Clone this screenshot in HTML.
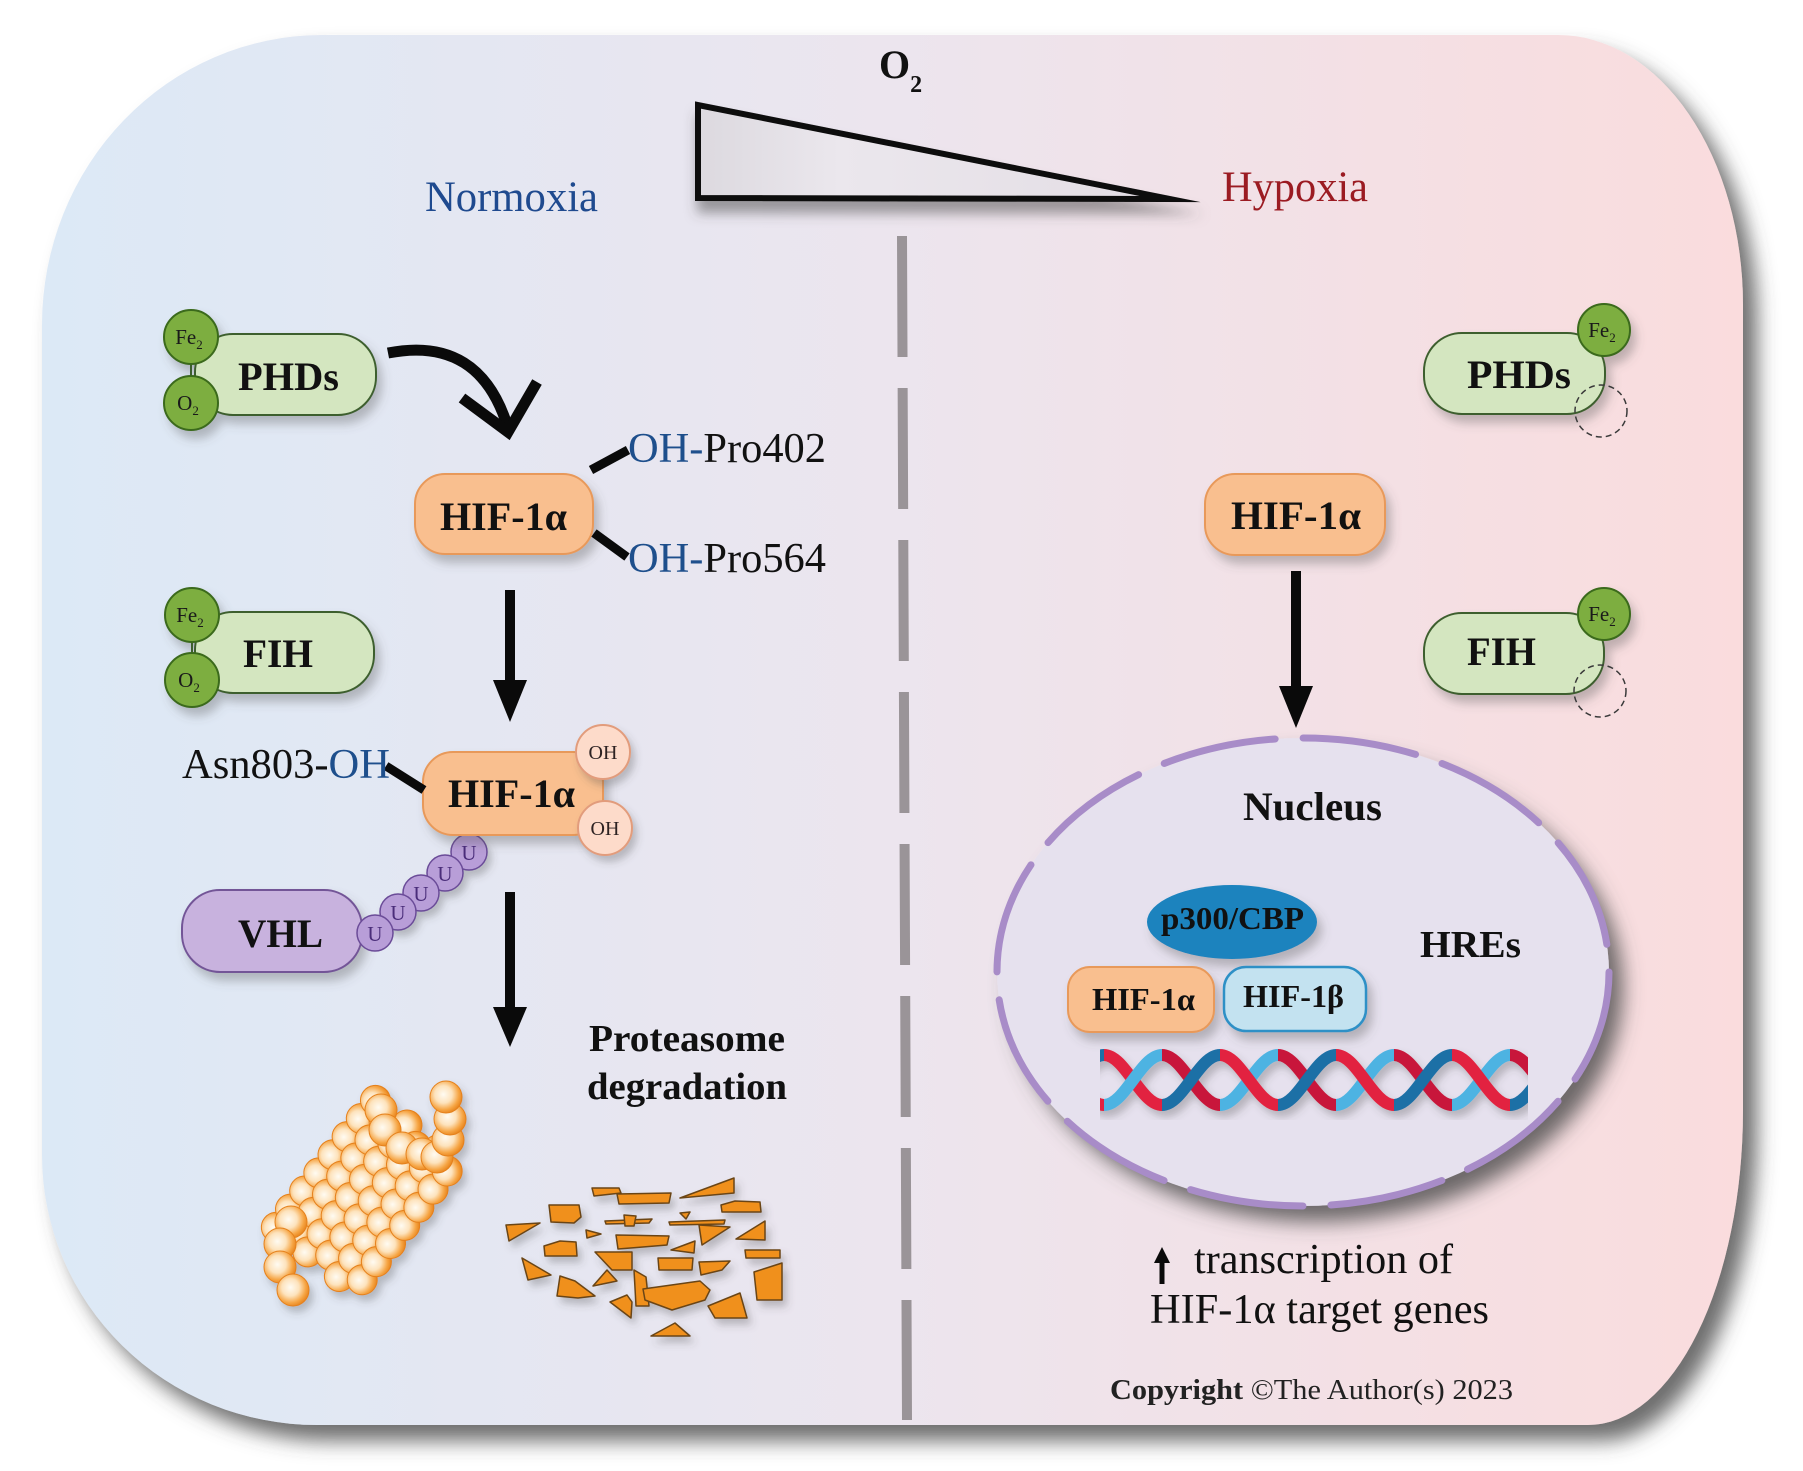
<!DOCTYPE html>
<html>
<head>
<meta charset="utf-8">
<style>
  html,body{margin:0;padding:0;background:#ffffff;}
  svg{display:block;}
  text{font-family:"Liberation Serif","Times New Roman",serif;}
</style>
</head>
<body>
<svg width="1803" height="1471" viewBox="0 0 1803 1471" xmlns="http://www.w3.org/2000/svg">
<defs>
  <linearGradient id="bg" x1="0" y1="0" x2="1" y2="0">
    <stop offset="0" stop-color="#dce9f6"/>
    <stop offset="0.5" stop-color="#ece5ee"/>
    <stop offset="1" stop-color="#fadcdd"/>
  </linearGradient>
  <linearGradient id="tri" x1="0" y1="0" x2="1" y2="0">
    <stop offset="0" stop-color="#dcd9df"/>
    <stop offset="0.3" stop-color="#ebe7ed"/>
    <stop offset="1" stop-color="#e3dde4"/>
  </linearGradient>
  <radialGradient id="sph" cx="0.42" cy="0.42" r="0.6">
    <stop offset="0" stop-color="#fffbf2"/>
    <stop offset="0.45" stop-color="#fde3bd"/>
    <stop offset="0.8" stop-color="#f6a544"/>
    <stop offset="1" stop-color="#e8861f"/>
  </radialGradient>
  <filter id="ps" x="-5%" y="-5%" width="115%" height="115%">
    <feDropShadow dx="14" dy="16" stdDeviation="10" flood-color="#4a4a4a" flood-opacity="0.8"/>
  </filter>
  <filter id="ds" x="-20%" y="-20%" width="150%" height="160%">
    <feDropShadow dx="5" dy="8" stdDeviation="5" flood-color="#555" flood-opacity="0.35"/>
  </filter>
  <filter id="tds" x="-10%" y="-20%" width="120%" height="170%">
    <feDropShadow dx="2" dy="12" stdDeviation="6" flood-color="#444" flood-opacity="0.5"/>
  </filter>
  <filter id="fs" x="-20%" y="-20%" width="150%" height="160%">
    <feDropShadow dx="4" dy="6" stdDeviation="4" flood-color="#444" flood-opacity="0.3"/>
  </filter>
  <clipPath id="dnaclip"><rect x="1100" y="1040" width="428" height="80"/></clipPath>
</defs>

<rect width="1803" height="1471" fill="#ffffff"/>

<!-- Panel -->
<path d="M 322 35 H 1558 A 185 270 0 0 1 1743 305 V 1110 A 155 315 0 0 1 1588 1425 H 317 A 275 270 0 0 1 42 1155 V 325 A 280 290 0 0 1 322 35 Z" fill="url(#bg)" filter="url(#ps)"/>

<!-- O2 label & triangle -->
<text x="879" y="78" font-size="40" font-weight="bold" fill="#111">O<tspan font-size="24" dy="14">2</tspan></text>
<polygon points="698,105 698,198 1170,199" fill="url(#tri)" stroke="#0a0a0a" stroke-width="6" stroke-linejoin="miter" stroke-miterlimit="30" filter="url(#tds)"/>

<text x="425" y="211" font-size="43" fill="#1f4a8f" textLength="173" lengthAdjust="spacingAndGlyphs">Normoxia</text>
<text x="1222" y="201" font-size="43" fill="#9b1b22" textLength="146" lengthAdjust="spacingAndGlyphs">Hypoxia</text>

<!-- dashed divider -->
<line x1="902" y1="236" x2="907" y2="1420" stroke="#9a9498" stroke-width="10" stroke-dasharray="121 31"/>

<!-- ============ LEFT ============ -->
<!-- PHDs -->
<g filter="url(#ds)">
  <rect x="195" y="334" width="181" height="81" rx="38" fill="#d4e6c0" stroke="#3e5e2e" stroke-width="2"/>
  <line x1="191" y1="362" x2="191" y2="378" stroke="#3e5e2e" stroke-width="2"/>
  <circle cx="191" cy="337" r="27" fill="#7dae3f" stroke="#3b6a1c" stroke-width="2"/>
  <circle cx="191" cy="403" r="27" fill="#7dae3f" stroke="#3b6a1c" stroke-width="2"/>
</g>
<text x="189" y="344" font-size="21" text-anchor="middle" fill="#1a1a1a">Fe<tspan font-size="13" dy="5">2</tspan></text>
<text x="188" y="410" font-size="21" text-anchor="middle" fill="#1a1a1a">O<tspan font-size="13" dy="5">2</tspan></text>
<text x="238" y="390" font-size="40" font-weight="bold" fill="#111" textLength="101" lengthAdjust="spacingAndGlyphs">PHDs</text>

<!-- curved arrow -->
<path d="M 388 353 Q 480 335 508 428" fill="none" stroke="#0a0a0a" stroke-width="11"/>
<polyline points="462,398 508,432 537,382" fill="none" stroke="#0a0a0a" stroke-width="11" stroke-linejoin="miter"/>

<!-- HIF-1a box 1 -->
<rect x="415" y="474" width="178" height="80" rx="30" fill="#f9bf8f" stroke="#e8995a" stroke-width="2" filter="url(#ds)"/>
<text x="440" y="530" font-size="40" font-weight="bold" fill="#111" textLength="127" lengthAdjust="spacingAndGlyphs">HIF-1α</text>
<line x1="591" y1="470" x2="628" y2="450" stroke="#0a0a0a" stroke-width="9"/>
<line x1="594" y1="533" x2="627" y2="557" stroke="#0a0a0a" stroke-width="9"/>
<text x="628" y="462" font-size="42" fill="#111" textLength="198" lengthAdjust="spacingAndGlyphs"><tspan fill="#1e4f8c">OH-</tspan>Pro402</text>
<text x="628" y="572" font-size="42" fill="#111" textLength="198" lengthAdjust="spacingAndGlyphs"><tspan fill="#1e4f8c">OH-</tspan>Pro564</text>

<!-- arrow 1 -->
<line x1="510" y1="590" x2="510" y2="688" stroke="#0a0a0a" stroke-width="10"/>
<polygon points="493,680 527,680 510,722" fill="#0a0a0a"/>

<!-- FIH -->
<g filter="url(#ds)">
  <rect x="195" y="612" width="179" height="81" rx="38" fill="#d4e6c0" stroke="#3e5e2e" stroke-width="2"/>
  <line x1="192" y1="640" x2="192" y2="655" stroke="#3e5e2e" stroke-width="2"/>
  <circle cx="192" cy="615" r="27" fill="#7dae3f" stroke="#3b6a1c" stroke-width="2"/>
  <circle cx="192" cy="680" r="27" fill="#7dae3f" stroke="#3b6a1c" stroke-width="2"/>
</g>
<text x="190" y="622" font-size="21" text-anchor="middle" fill="#1a1a1a">Fe<tspan font-size="13" dy="5">2</tspan></text>
<text x="189" y="687" font-size="21" text-anchor="middle" fill="#1a1a1a">O<tspan font-size="13" dy="5">2</tspan></text>
<text x="243" y="667" font-size="40" font-weight="bold" fill="#111" textLength="70" lengthAdjust="spacingAndGlyphs">FIH</text>

<!-- Ubiquitin chain (behind) -->
<g filter="url(#fs)">
  <circle cx="469" cy="852" r="18" fill="#b89ed8" stroke="#6b4c98" stroke-width="1.5"/>
  <circle cx="445" cy="873" r="18" fill="#b89ed8" stroke="#6b4c98" stroke-width="1.5"/>
  <circle cx="421" cy="893" r="18" fill="#b89ed8" stroke="#6b4c98" stroke-width="1.5"/>
  <circle cx="398" cy="912" r="18" fill="#b89ed8" stroke="#6b4c98" stroke-width="1.5"/>
</g>

<!-- HIF-1a box 2 with OH -->
<rect x="423" y="752" width="180" height="83" rx="30" fill="#f9bf8f" stroke="#e8995a" stroke-width="2" filter="url(#ds)"/>
<g filter="url(#fs)">
  <circle cx="603" cy="752" r="27" fill="#fddbca" stroke="#e29c7c" stroke-width="2"/>
  <circle cx="605" cy="828" r="27" fill="#fddbca" stroke="#e29c7c" stroke-width="2"/>
</g>
<text x="603" y="759" font-size="20" text-anchor="middle" fill="#2d2222">OH</text>
<text x="605" y="835" font-size="20" text-anchor="middle" fill="#2d2222">OH</text>
<text x="448" y="807" font-size="40" font-weight="bold" fill="#111" textLength="127" lengthAdjust="spacingAndGlyphs">HIF-1α</text>
<line x1="386" y1="766" x2="424" y2="790" stroke="#0a0a0a" stroke-width="9"/>
<text x="182" y="778" font-size="42" fill="#111" textLength="208" lengthAdjust="spacingAndGlyphs">Asn803-<tspan fill="#1e4f8c">OH</tspan></text>

<!-- VHL -->
<rect x="182" y="890" width="180" height="82" rx="38" fill="#c8b2de" stroke="#735597" stroke-width="2" filter="url(#ds)"/>
<circle cx="375" cy="933" r="18" fill="#b89ed8" stroke="#6b4c98" stroke-width="1.5"/>
<text x="375" y="941" font-size="21" text-anchor="middle" fill="#4a2d7a">U</text>
<text x="398" y="920" font-size="21" text-anchor="middle" fill="#4a2d7a">U</text>
<text x="421" y="901" font-size="21" text-anchor="middle" fill="#4a2d7a">U</text>
<text x="445" y="881" font-size="21" text-anchor="middle" fill="#4a2d7a">U</text>
<text x="469" y="860" font-size="21" text-anchor="middle" fill="#4a2d7a">U</text>
<text x="238" y="947" font-size="40" font-weight="bold" fill="#111" textLength="85" lengthAdjust="spacingAndGlyphs">VHL</text>

<!-- arrow 2 -->
<line x1="510" y1="892" x2="510" y2="1015" stroke="#0a0a0a" stroke-width="10"/>
<polygon points="493,1007 527,1007 510,1047" fill="#0a0a0a"/>

<text x="589" y="1051" font-size="38" font-weight="bold" fill="#111" textLength="196" lengthAdjust="spacingAndGlyphs">Proteasome</text>
<text x="587" y="1099" font-size="38" font-weight="bold" fill="#111" textLength="200" lengthAdjust="spacingAndGlyphs">degradation</text>

<!-- Proteasome -->
<g filter="url(#fs)" stroke="#e5801a" stroke-width="1" fill="url(#sph)">
  <g transform="translate(365,1195) rotate(-52)">
    <circle cx="-80" cy="-50" r="15"/><circle cx="-57" cy="-50" r="15"/><circle cx="-34" cy="-50" r="15"/><circle cx="-11" cy="-50" r="15"/><circle cx="12" cy="-50" r="15"/><circle cx="35" cy="-50" r="15"/><circle cx="58" cy="-50" r="15"/><circle cx="81" cy="-50" r="15"/>
    <circle cx="-68.5" cy="-30" r="15"/><circle cx="-45.5" cy="-30" r="15"/><circle cx="-22.5" cy="-30" r="15"/><circle cx="0.5" cy="-30" r="15"/><circle cx="23.5" cy="-30" r="15"/><circle cx="46.5" cy="-30" r="15"/><circle cx="69.5" cy="-30" r="15"/>
    <circle cx="-80" cy="-10" r="15"/><circle cx="-57" cy="-10" r="15"/><circle cx="-34" cy="-10" r="15"/><circle cx="-11" cy="-10" r="15"/><circle cx="12" cy="-10" r="15"/><circle cx="35" cy="-10" r="15"/><circle cx="58" cy="-10" r="15"/><circle cx="81" cy="-10" r="15"/>
    <circle cx="-68.5" cy="10" r="15"/><circle cx="-45.5" cy="10" r="15"/><circle cx="-22.5" cy="10" r="15"/><circle cx="0.5" cy="10" r="15"/><circle cx="23.5" cy="10" r="15"/><circle cx="46.5" cy="10" r="15"/><circle cx="69.5" cy="10" r="15"/>
    <circle cx="-80" cy="30" r="15"/><circle cx="-57" cy="30" r="15"/><circle cx="-34" cy="30" r="15"/><circle cx="-11" cy="30" r="15"/><circle cx="12" cy="30" r="15"/><circle cx="35" cy="30" r="15"/><circle cx="58" cy="30" r="15"/><circle cx="81" cy="30" r="15"/>
    <circle cx="-68.5" cy="50" r="15"/><circle cx="-45.5" cy="50" r="15"/><circle cx="-22.5" cy="50" r="15"/><circle cx="0.5" cy="50" r="15"/><circle cx="23.5" cy="50" r="15"/><circle cx="46.5" cy="50" r="15"/><circle cx="69.5" cy="50" r="15"/>
  </g>
  <!-- end chains -->
  <circle cx="291" cy="1222" r="16"/><circle cx="280" cy="1244" r="16"/><circle cx="280" cy="1267" r="16"/><circle cx="293" cy="1290" r="16"/>
  <circle cx="381" cy="1110" r="16"/><circle cx="385" cy="1130" r="16"/><circle cx="402" cy="1148" r="16"/><circle cx="422" cy="1154" r="16"/><circle cx="437" cy="1157" r="16"/><circle cx="448" cy="1140" r="16"/><circle cx="450" cy="1119" r="16"/><circle cx="446" cy="1097" r="16"/>
</g>

<!-- Fragments -->
<g fill="#f0901e" stroke="#6b4512" stroke-width="1.5" stroke-linejoin="round" filter="url(#fs)">
  <polygon points="592,1188 619,1188 621,1193 594,1196"/>
  <polygon points="617,1194 671,1193 669,1203 619,1204"/>
  <polygon points="680,1198 734,1178 734,1193"/>
  <polygon points="721,1205 735,1201 760,1202 761,1212 722,1212"/>
  <polygon points="549,1205 579,1205 581,1217 574,1223 551,1222"/>
  <polygon points="605,1221 652,1219 649,1223 606,1224"/>
  <polygon points="624,1215 636,1216 634,1226 625,1226"/>
  <polygon points="669,1222 725,1220 724,1224 670,1225"/>
  <polygon points="680,1213 690,1212 686,1219"/>
  <polygon points="506,1225 540,1223 509,1241"/>
  <polygon points="586,1230 601,1234 587,1238"/>
  <polygon points="616,1235 669,1236 667,1245 618,1249"/>
  <polygon points="699,1225 730,1227 702,1245"/>
  <polygon points="736,1239 765,1221 765,1240"/>
  <polygon points="544,1246 560,1241 576,1242 577,1256 545,1256"/>
  <polygon points="671,1250 695,1241 694,1253"/>
  <polygon points="745,1250 780,1250 780,1258 746,1258"/>
  <polygon points="595,1252 632,1252 632,1270 612,1270"/>
  <polygon points="658,1258 693,1258 692,1270 659,1270"/>
  <polygon points="699,1262 730,1261 722,1270 701,1275"/>
  <polygon points="522,1258 551,1275 528,1280"/>
  <polygon points="754,1272 782,1263 782,1300 757,1300"/>
  <polygon points="560,1276 575,1281 595,1296 578,1298 557,1296"/>
  <polygon points="593,1286 607,1270 617,1281"/>
  <polygon points="634,1270 646,1277 649,1306 636,1306"/>
  <polygon points="643,1289 700,1281 710,1290 705,1300 672,1310 645,1300"/>
  <polygon points="708,1306 740,1293 747,1318 715,1318"/>
  <polygon points="610,1302 627,1295 632,1302 631,1318"/>
  <polygon points="651,1336 675,1323 690,1336"/>
</g>

<!-- ============ RIGHT ============ -->
<!-- PHDs right -->
<g filter="url(#ds)">
  <rect x="1424" y="333" width="181" height="81" rx="38" fill="#d4e6c0" stroke="#3e5e2e" stroke-width="2"/>
  <circle cx="1604" cy="330" r="26" fill="#7dae3f" stroke="#3b6a1c" stroke-width="2"/>
</g>
<circle cx="1601" cy="411" r="26" fill="none" stroke="#3a3a3a" stroke-width="1.5" stroke-dasharray="6 4"/>
<text x="1602" y="337" font-size="21" text-anchor="middle" fill="#1a1a1a">Fe<tspan font-size="13" dy="5">2</tspan></text>
<text x="1467" y="388" font-size="40" font-weight="bold" fill="#111" textLength="104" lengthAdjust="spacingAndGlyphs">PHDs</text>

<!-- HIF right -->
<rect x="1205" y="474" width="180" height="81" rx="30" fill="#f9bf8f" stroke="#e8995a" stroke-width="2" filter="url(#ds)"/>
<text x="1231" y="529" font-size="40" font-weight="bold" fill="#111" textLength="130" lengthAdjust="spacingAndGlyphs">HIF-1α</text>

<!-- arrow right -->
<line x1="1296" y1="571" x2="1296" y2="692" stroke="#0a0a0a" stroke-width="10"/>
<polygon points="1279,686 1313,686 1296,728" fill="#0a0a0a"/>

<!-- FIH right -->
<g filter="url(#ds)">
  <rect x="1424" y="613" width="180" height="81" rx="38" fill="#d4e6c0" stroke="#3e5e2e" stroke-width="2"/>
  <circle cx="1604" cy="614" r="26" fill="#7dae3f" stroke="#3b6a1c" stroke-width="2"/>
</g>
<circle cx="1600" cy="691" r="26" fill="none" stroke="#3a3a3a" stroke-width="1.5" stroke-dasharray="6 4"/>
<text x="1602" y="621" font-size="21" text-anchor="middle" fill="#1a1a1a">Fe<tspan font-size="13" dy="5">2</tspan></text>
<text x="1467" y="665" font-size="40" font-weight="bold" fill="#111" textLength="69" lengthAdjust="spacingAndGlyphs">FIH</text>

<!-- Nucleus -->
<ellipse cx="1303" cy="972" rx="306" ry="234" fill="#e6e1ee" filter="url(#ps)"/>
<ellipse cx="1303" cy="972" rx="306" ry="234" fill="none" stroke="#a88cc8" stroke-width="7" stroke-dasharray="114 28" stroke-linecap="round"/>
<text x="1243" y="820" font-size="40" font-weight="bold" fill="#111" textLength="139" lengthAdjust="spacingAndGlyphs">Nucleus</text>

<ellipse cx="1232" cy="922" rx="85" ry="37" fill="#1a83be" filter="url(#ds)"/>
<text x="1161" y="929" font-size="32" font-weight="bold" fill="#111" textLength="143" lengthAdjust="spacingAndGlyphs">p300/CBP</text>
<text x="1420" y="957" font-size="38" font-weight="bold" fill="#111" textLength="101" lengthAdjust="spacingAndGlyphs">HREs</text>

<rect x="1068" y="967" width="146" height="65" rx="22" fill="#f9bf8f" stroke="#e8995a" stroke-width="2" filter="url(#ds)"/>
<text x="1092" y="1010" font-size="32" font-weight="bold" fill="#111" textLength="103" lengthAdjust="spacingAndGlyphs">HIF-1α</text>
<rect x="1224" y="967" width="142" height="64" rx="22" fill="#c3e2f0" stroke="#2e90c6" stroke-width="2.5" filter="url(#ds)"/>
<text x="1243" y="1007" font-size="32" font-weight="bold" fill="#111" textLength="101" lengthAdjust="spacingAndGlyphs">HIF-1β</text>

<!-- DNA : descending diagonals red, ascending diagonals blue -->
<g clip-path="url(#dnaclip)" filter="url(#fs)" fill="none" stroke-width="12" stroke-linecap="butt">
  <path d="M1046 1105 C1067 1105 1083 1055 1104 1055" stroke="#1e6fa6"/>
  <path d="M1046 1055 C1067 1055 1083 1105 1104 1105" stroke="#e2233f"/>

  <path d="M1104 1055 C1125 1055 1141 1105 1162 1105" stroke="#e2233f"/>
  <path d="M1104 1105 C1125 1105 1141 1055 1162 1055" stroke="#4db3e2"/>

  <path d="M1162 1055 C1183 1055 1199 1105 1220 1105" stroke="#c8183a"/>
  <path d="M1162 1105 C1183 1105 1199 1055 1220 1055" stroke="#1e6fa6"/>

  <path d="M1220 1105 C1241 1105 1257 1055 1278 1055" stroke="#4db3e2"/>
  <path d="M1220 1055 C1241 1055 1257 1105 1278 1105" stroke="#e2233f"/>

  <path d="M1278 1055 C1299 1055 1315 1105 1336 1105" stroke="#c8183a"/>
  <path d="M1278 1105 C1299 1105 1315 1055 1336 1055" stroke="#1e6fa6"/>

  <path d="M1336 1105 C1357 1105 1373 1055 1394 1055" stroke="#4db3e2"/>
  <path d="M1336 1055 C1357 1055 1373 1105 1394 1105" stroke="#e2233f"/>

  <path d="M1394 1055 C1415 1055 1431 1105 1452 1105" stroke="#c8183a"/>
  <path d="M1394 1105 C1415 1105 1431 1055 1452 1055" stroke="#1e6fa6"/>

  <path d="M1452 1105 C1473 1105 1489 1055 1510 1055" stroke="#4db3e2"/>
  <path d="M1452 1055 C1473 1055 1489 1105 1510 1105" stroke="#e2233f"/>

  <path d="M1510 1055 C1531 1055 1547 1105 1568 1105" stroke="#c8183a"/>
  <path d="M1510 1105 C1531 1105 1547 1055 1568 1055" stroke="#1e6fa6"/>
</g>

<!-- transcription -->
<line x1="1162" y1="1284" x2="1162" y2="1258" stroke="#0a0a0a" stroke-width="5"/>
<polygon points="1154,1263 1170,1263 1162,1247" fill="#0a0a0a"/>
<text x="1194" y="1273" font-size="42" fill="#111" textLength="259" lengthAdjust="spacingAndGlyphs">transcription of</text>
<text x="1150" y="1323" font-size="42" fill="#111" textLength="339" lengthAdjust="spacingAndGlyphs">HIF-1α target genes</text>

<text x="1110" y="1399" font-size="28" fill="#222" textLength="403" lengthAdjust="spacingAndGlyphs"><tspan font-weight="bold">Copyright</tspan> ©The Author(s) 2023</text>

</svg>
</body>
</html>
